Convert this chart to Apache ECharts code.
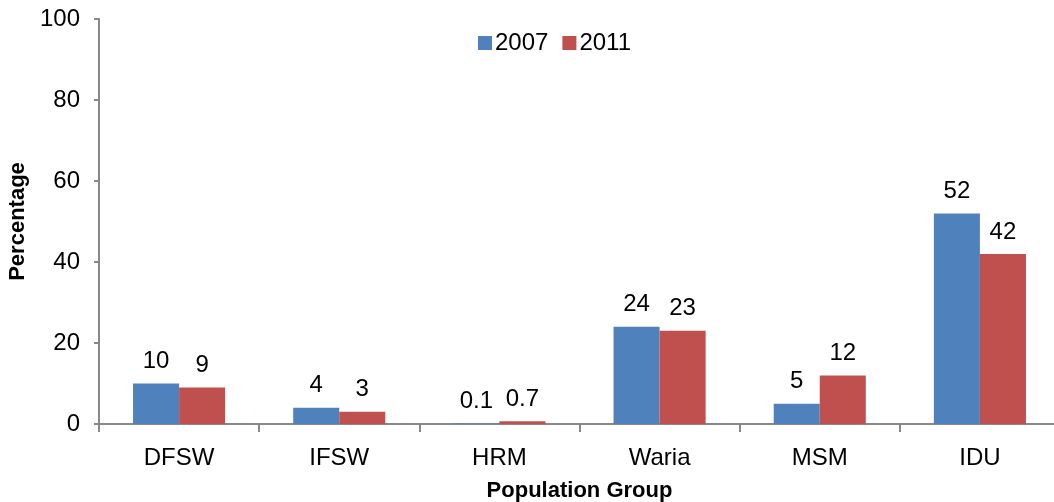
<!DOCTYPE html>
<html><head><meta charset="utf-8">
<script src="https://cdn.jsdelivr.net/npm/echarts@6/dist/echarts.min.js"></script>
<style>html,body{margin:0;padding:0;background:#fff}#c{width:1054px;height:502px}</style>
</head><body><div id="c"></div>
<script>
var categories = ['DFSW','IFSW','HRM','Waria','MSM','IDU'];
var values2007 = [10, 4, 0.1, 24, 5, 52];
var values2011 = [9, 3, 0.7, 23, 12, 42];
var yTicks = {min: 0, max: 100, interval: 20};
var F = 'Liberation Sans, Arial, sans-serif';
var chart = echarts.init(document.getElementById('c'));
var lbl = {show: true, position: 'top', distance: 10, color: '#000', fontSize: 24, fontFamily: F};
chart.setOption({
  animation: false,
  textStyle: {fontFamily: F},
  legend: {top: 26, left: 473, itemWidth: 14, itemHeight: 14, itemGap: 14,
    textStyle: {fontSize: 24, color: '#000', fontFamily: F, padding: [0,0,0,-2]}, icon: 'rect',
    data: ['2007','2011']},
  grid: {left: 99, right: -6, top: 19, bottom: 78, outerBoundsMode: 'none', containLabel: false},
  xAxis: {type: 'category', data: categories,
    name: 'Population Group', nameLocation: 'middle', nameGap: 56,
    nameTextStyle: {fontSize: 22, fontWeight: 'bold', color: '#000', fontFamily: F},
    axisLine: {lineStyle: {color: '#888', width: 2}},
    axisTick: {show: true, length: 8, lineStyle: {color: '#888', width: 2}},
    axisLabel: {fontSize: 24, color: '#000', margin: 22, fontFamily: F}},
  yAxis: {type: 'value', min: yTicks.min, max: yTicks.max, interval: yTicks.interval,
    name: 'Percentage', nameLocation: 'middle', nameGap: 68,
    nameTextStyle: {fontSize: 22, fontWeight: 'bold', color: '#000', fontFamily: F},
    axisLine: {show: true, lineStyle: {color: '#888', width: 2}},
    axisTick: {show: true, length: 5, lineStyle: {color: '#888', width: 2}},
    splitLine: {show: false},
    axisLabel: {fontSize: 24, color: '#000', margin: 19, fontFamily: F}},
  series: [
    {name: '2007', type: 'bar', data: values2007, barGap: '0%', barCategoryGap: '42.5%',
      itemStyle: {color: '#4F81BD'}, label: lbl},
    {name: '2011', type: 'bar', data: values2011,
      itemStyle: {color: '#C0504D'}, label: lbl}
  ]
});
</script></body></html>
